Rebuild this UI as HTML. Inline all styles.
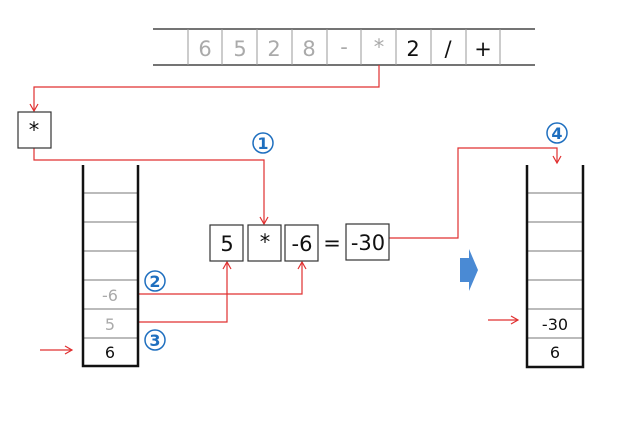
<!DOCTYPE html>
<html><head><style>body{margin:0;background:#fff}svg{display:block}</style></head><body>
<svg width="632" height="427" viewBox="0 0 632 427" xmlns="http://www.w3.org/2000/svg" font-family="DejaVu Sans, Liberation Sans, sans-serif">
<defs><marker id="a" markerWidth="10" markerHeight="10" refX="8" refY="5" orient="auto" markerUnits="userSpaceOnUse"><path d="M1,1 L8,5 L1,9" fill="none" stroke="#e03030" stroke-width="1.2"/></marker></defs>
<g stroke="#222" stroke-width="1.2"><line x1="153" y1="29" x2="535" y2="29"/><line x1="153" y1="65" x2="535" y2="65"/></g>
<g stroke="#999" stroke-width="1">
<line x1="188" y1="29" x2="188" y2="65"/><line x1="222" y1="29" x2="222" y2="65"/><line x1="257" y1="29" x2="257" y2="65"/><line x1="292" y1="29" x2="292" y2="65"/><line x1="327" y1="29" x2="327" y2="65"/><line x1="361" y1="29" x2="361" y2="65"/><line x1="396" y1="29" x2="396" y2="65"/><line x1="431" y1="29" x2="431" y2="65"/><line x1="466" y1="29" x2="466" y2="65"/><line x1="500" y1="29" x2="500" y2="65"/></g>
<g font-size="21" text-anchor="middle" fill="#aaa"><text x="205" y="56">6</text><text x="240" y="56">5</text><text x="274" y="56">2</text><text x="309" y="56">8</text><text x="344" y="54">-</text><text x="379" y="54">*</text></g>
<g font-size="21" text-anchor="middle" fill="#111"><text x="413" y="56">2</text><text x="448" y="56">/</text><text x="483" y="56">+</text></g>
<g fill="none" stroke="#e03030" stroke-width="1.2">
<polyline points="379,65 379,87 34,87 34,111" marker-end="url(#a)"/>
<polyline points="34,148 34,160 264,160 264,224" marker-end="url(#a)"/>
<polyline points="139,294 302,294 302,262" marker-end="url(#a)"/>
<polyline points="139,322 227,322 227,262" marker-end="url(#a)"/>
<line x1="40" y1="350" x2="72" y2="350" marker-end="url(#a)"/>
<polyline points="389,238 458,238 458,148 557,148 557,163" marker-end="url(#a)"/>
<line x1="488" y1="320" x2="518" y2="320" marker-end="url(#a)"/>
</g>
<g fill="#fff" stroke="#333" stroke-width="1.2">
<rect x="18" y="112" width="33" height="36"/>
<rect x="210" y="225" width="33" height="36"/><rect x="248" y="225" width="33" height="36"/><rect x="285" y="225" width="33" height="36"/><rect x="346" y="224" width="43" height="36"/></g>
<g font-size="21" text-anchor="middle" fill="#111"><text x="34" y="137">*</text><text x="227" y="251">5</text><text x="265" y="249">*</text><text x="302" y="251">-6</text><text x="332" y="250">=</text><text x="368" y="250">-30</text></g>
<g stroke="#777" stroke-width="1"><line x1="83" y1="193" x2="138" y2="193"/><line x1="83" y1="222" x2="138" y2="222"/><line x1="83" y1="251" x2="138" y2="251"/><line x1="83" y1="280" x2="138" y2="280"/><line x1="83" y1="309" x2="138" y2="309"/><line x1="83" y1="338" x2="138" y2="338"/>
<line x1="527" y1="193" x2="583" y2="193"/><line x1="527" y1="222" x2="583" y2="222"/><line x1="527" y1="251" x2="583" y2="251"/><line x1="527" y1="280" x2="583" y2="280"/><line x1="527" y1="309" x2="583" y2="309"/><line x1="527" y1="338" x2="583" y2="338"/></g>
<g fill="none" stroke="#111" stroke-width="2.5"><polyline points="83,165 83,366 138,366 138,165"/><polyline points="527,165 527,367 583,367 583,165"/></g>
<g font-size="16" text-anchor="middle"><text x="110" y="301" fill="#aaa">-6</text><text x="110" y="330" fill="#aaa">5</text><text x="110" y="358" fill="#111">6</text><text x="555" y="330" fill="#111">-30</text><text x="555" y="358" fill="#111">6</text></g>
<g fill="none" stroke="#1f6fbf" stroke-width="1.5"><circle cx="263" cy="143" r="10"/><circle cx="155" cy="281" r="10"/><circle cx="155" cy="340" r="10"/><circle cx="557" cy="133" r="10"/></g>
<g font-size="16" font-weight="bold" text-anchor="middle" fill="#1f6fbf"><text x="263" y="149">1</text><text x="155" y="287">2</text><text x="155" y="346">3</text><text x="557" y="139">4</text></g>
<path d="M460,258 L469,258 L469,249 L478,270 L469,291 L469,282 L460,282 Z" fill="#4a8ad4"/>
</svg>
</body></html>
